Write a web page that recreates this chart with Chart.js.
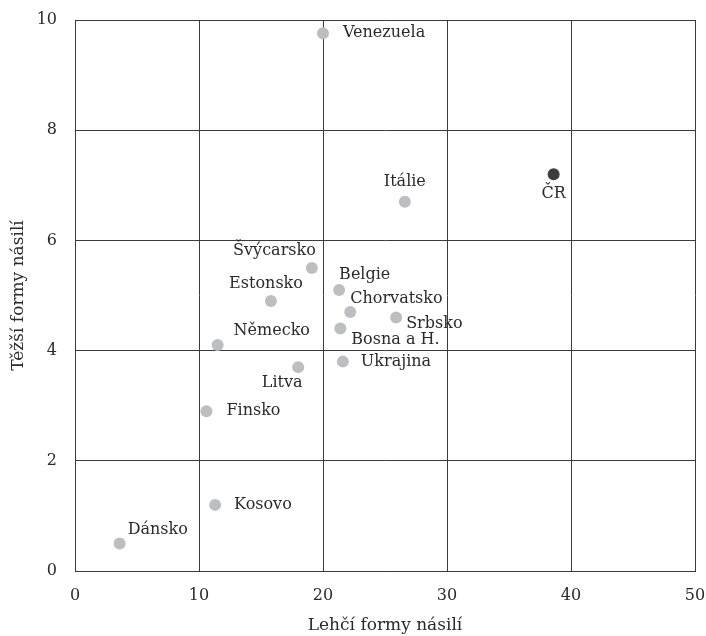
<!DOCTYPE html>
<html>
<head>
<meta charset="utf-8">
<script src="https://cdn.jsdelivr.net/npm/chart.js@4"></script>
<style>
  html, body { margin: 0; padding: 0; background: #fff; }
  #wrap { position: relative; width: 706px; height: 636px; }
</style>
</head>
<body>
<div id="wrap"><canvas id="chart"></canvas></div>
<script>
const countries = ["Venezuela", "Itálie", "ČR", "Švýcarsko", "Belgie", "Chorvatsko", "Srbsko",
    "Bosna a H.", "Ukrajina", "Estonsko", "Německo", "Litva", "Finsko", "Kosovo", "Dánsko"];
const lighter = [20.0, 26.6, 38.6, 19.1, 21.3, 22.2, 25.9, 21.4, 21.6, 15.8, 11.5, 18.0, 10.6, 11.3, 3.6];
const heavier = [9.76, 6.7, 7.2, 5.5, 5.1, 4.7, 4.6, 4.4, 3.8, 4.9, 4.1, 3.7, 2.9, 1.2, 0.5];
const xTicks = [0, 10, 20, 30, 40, 50];
const yTicks = [0, 2, 4, 6, 8, 10];

// label placement relative to the dot: [dx, dy, align]
const labelPlace = [
    [20, 0, "left"], [0, -20, "center"], [0, 20, "center"], [4, -17, "right"],
    [0, -15, "left"], [0, -13, "left"], [10, 6, "left"], [11, 11, "left"],
    [18, 0, "left"], [32, -17, "right"], [16, -14, "left"], [-16, 16, "center"],
    [20, 0, "left"], [19, 0, "left"], [8, -14, "left"]
];

const FONT = "'DejaVu Serif', serif";
const GRID = "#3a3a3a";

const pointLabels = {
    id: "pointLabels",
    afterDatasetsDraw(chart) {
        const ctx = chart.ctx;
        const xs = chart.scales.x, ys = chart.scales.y;
        ctx.save();
        ctx.font = "16px " + FONT;
        ctx.fillStyle = "#2a2a2a";
        ctx.textBaseline = "middle";
        countries.forEach((name, i) => {
            const p = labelPlace[i];
            ctx.textAlign = p[2];
            ctx.fillText(name, xs.getPixelForValue(lighter[i]) + p[0], ys.getPixelForValue(heavier[i]) + p[1]);
        });
        ctx.restore();
    }
};

function noPad(s) {
    s.paddingTop = 0; s.paddingBottom = 0; s.paddingLeft = 0; s.paddingRight = 0;
}

const points = countries.map((c, i) => ({ x: lighter[i], y: heavier[i] }));

new Chart(document.getElementById("chart"), {
    type: "scatter",
    data: {
        datasets: [{
            data: points,
            pointRadius: 6,
            pointHoverRadius: 6,
            borderWidth: 0,
            backgroundColor: countries.map(c => c === "ČR" ? "#3d3d3d" : "#bdbec1"),
        }]
    },
    options: {
        responsive: true,
        maintainAspectRatio: false,
        animation: false,
        layout: { padding: { top: 20, right: 11, left: 0, bottom: 0 } },
        plugins: { legend: { display: false }, tooltip: { enabled: false } },
        scales: {
            x: {
                type: "linear", min: 0, max: 50,
                afterBuildTicks: s => { s.ticks = xTicks.map(v => ({ value: v })); },
                afterFit: s => { s.height = 65; noPad(s); },
                grid: { color: GRID, lineWidth: 1, drawTicks: false },
                border: { color: GRID, width: 1 },
                ticks: { color: "#2a2a2a", padding: 15, font: { family: FONT, size: 16 } },
                title: { display: true, text: "Lehčí formy násilí", color: "#2a2a2a", padding: { top: 6, bottom: 0 },
                    font: { family: FONT, size: 17 } }
            },
            y: {
                type: "linear", min: 0, max: 10,
                afterBuildTicks: s => { s.ticks = yTicks.map(v => ({ value: v })); },
                afterFit: s => { s.width = 75; noPad(s); },
                grid: { color: GRID, lineWidth: 1, drawTicks: false },
                border: { color: GRID, width: 1 },
                ticks: { color: "#2a2a2a", padding: 18, font: { family: FONT, size: 16 } },
                title: { display: true, text: "Těžší formy násilí", color: "#2a2a2a", padding: { top: 8, bottom: 0 },
                    font: { family: FONT, size: 17 } }
            }
        }
    },
    plugins: [pointLabels]
});
</script>
</body>
</html>
